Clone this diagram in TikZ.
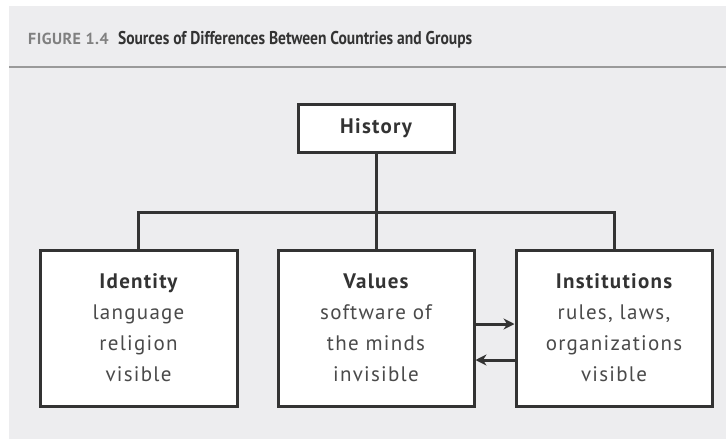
\documentclass[tikz,border=0pt]{standalone}
\usepackage{fontspec}
\setmainfont{PT Sans}[LetterSpace=6]
\newfontfamily\titlefont{PT Sans}[FakeStretch=0.84]
\newfontfamily\capsfont{PT Sans}[LetterSpace=3]
\usepackage{xcolor}
\usepackage{tikz}
\usetikzlibrary{positioning,arrows.meta}
\definecolor{mybg}{HTML}{EDEDEF}
\definecolor{myline}{HTML}{333333}
\definecolor{mytext}{HTML}{4A4A4A}
\definecolor{myrule}{HTML}{9A9A9A}

\tikzset{
  box/.style={draw=myline, line width=3pt, fill=white, align=center,
    text=mytext, font=\fontsize{21}{31}\selectfont},
  link/.style={draw=myline, line width=3pt},
}

\begin{document}
\begin{tikzpicture}[x=1pt,y=-1pt]
    % basics
    \useasboundingbox (0,0) rectangle (726,439);
    \fill[white] (0,0) rectangle (726,439);
    \fill[mybg] (9,6) rectangle (726,439);
    \draw[myrule, line width=2.5pt] (9,67) -- (726,67);

    % title
    \node[anchor=base west, inner sep=0pt, text=gray, font=\capsfont\bfseries\fontsize{16}{18}\selectfont] (fig) at (28,45) {FIGURE 1.4};
    \node[inner sep=0pt, text=myline, font=\titlefont\bfseries\fontsize{18.5}{20}\selectfont, right=9pt of fig.base east, anchor=base west] (caption) {Sources of Differences Between Countries and Groups};

    % boxes
    \node[box, minimum width=156pt, minimum height=48pt, text=myline] (history) at (376,128) {\bfseries History};
    \node[box, minimum width=197pt, minimum height=156pt] (identity) at (138.5,328)
        {{\color{myline}\bfseries Identity}\\language\\religion\\visible};
    \node[box, minimum width=196pt, minimum height=156pt] (values) at (376,328)
        {{\color{myline}\bfseries Values}\\software of\\the minds\\invisible};
    \node[box, minimum width=196pt, minimum height=156pt] (institutions) at (614,328)
        {{\color{myline}\bfseries Institutions}\\rules, laws,\\organizations\\visible};

    % tree
    \draw[link] (history.south) -- (values.north);
    \draw[link] (identity.north) -- ++(0,-36) -| (institutions.north);

    % arrows
    \draw[link, -{Stealth[length=11pt,width=11pt]}] ([yshift=4pt]values.east) -- ([yshift=4pt]institutions.west);
    \draw[link, -{Stealth[length=11pt,width=11pt]}] ([yshift=-32pt]institutions.west) -- ([yshift=-32pt]values.east);
\end{tikzpicture}
\end{document}
